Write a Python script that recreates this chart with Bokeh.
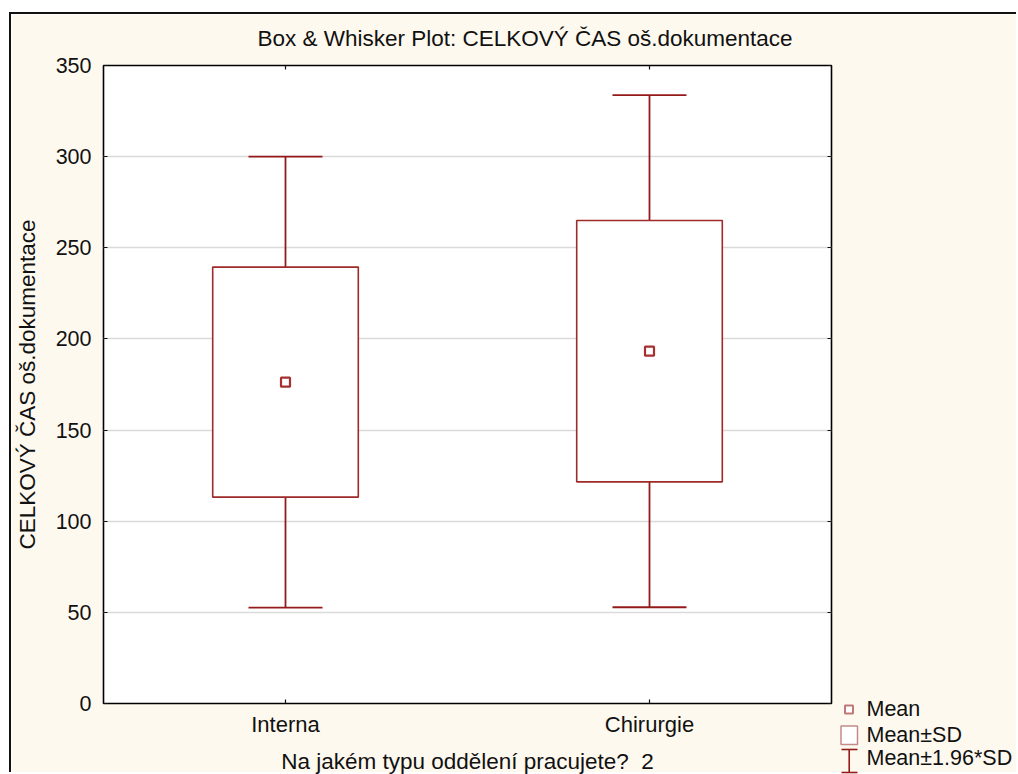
from bokeh.plotting import figure
from bokeh.models import (Range1d, FactorRange, Whisker, TeeHead, ColumnDataSource,
                          CategoricalAxis, LinearAxis)
from bokeh.core.properties import value
from bokeh.embed import file_html
from bokeh.resources import INLINE

# ---- data ----
categories = ["Interna", "Chirurgie"]
means = [176.3, 193.3]
sd_low = [113.2, 121.6]       # Mean - SD
sd_high = [239.4, 265.0]      # Mean + SD
ci_low = [52.6, 52.8]         # Mean - 1.96*SD
ci_high = [300.0, 333.8]      # Mean + 1.96*SD
y_ticks = [0, 50, 100, 150, 200, 250, 300, 350]

title_text = "Box & Whisker Plot: CELKOVÝ ČAS oš.dokumentace"
y_label = "CELKOVÝ ČAS oš.dokumentace"
x_label = "Na jakém typu oddělení pracujete?\u00a0 2"
legend_labels = ["Mean", "Mean±SD", "Mean±1.96*SD"]

CREAM = "#FEF9EF"
DARK = "#951B1B"
BOXC = "#9E2A2A"
FONT = "Liberation Sans"
TXT = "#111111"

src = ColumnDataSource(dict(cat=categories, mean=means, lo=sd_low, hi=sd_high,
                            clo=ci_low, chi=ci_high))

p = figure(x_range=FactorRange(factors=categories), y_range=Range1d(0, 350),
           width=1007, height=760, output_backend="svg", toolbar_location=None,
           min_border_left=92, min_border_right=187, min_border_top=51, min_border_bottom=71,
           border_fill_color=CREAM, background_fill_color="white",
           outline_line_color="black", outline_line_width=1.6)
p.styles = {"margin-left": "9px", "margin-top": "12px",
            "border-left": "2px solid #111", "border-top": "2px solid #111"}

# axes
ya = p.yaxis[0]
ya.ticker = y_ticks
ya.major_label_text_font = FONT
ya.major_label_text_font_size = "21.5px"
ya.major_label_text_color = TXT
ya.major_label_standoff = 12
ya.axis_label = y_label
ya.axis_label_text_font = FONT
ya.axis_label_text_font_size = "22.5px"
ya.axis_label_text_font_style = "normal"
ya.axis_label_text_color = TXT
ya.axis_label_standoff = 13
xa = p.xaxis[0]
xa.major_label_text_font = FONT
xa.major_label_text_font_size = "22px"
xa.major_label_text_color = TXT
xa.major_label_standoff = 8

ra = LinearAxis(ticker=y_ticks, major_label_text_color=None, major_label_text_font_size="1px")
ta = CategoricalAxis(major_label_text_color=None, major_label_text_font_size="1px")
p.add_layout(ra, "right")
p.add_layout(ta, "above")
for ax in [ya, xa, ra, ta]:
    ax.axis_line_color = None
    ax.major_tick_in = 4
    ax.major_tick_out = 0
    ax.major_tick_line_color = TXT
    ax.major_tick_line_width = 1.2
    ax.minor_tick_line_color = None

p.xgrid.grid_line_color = None
p.ygrid.ticker = y_ticks
p.ygrid.grid_line_color = "#DADADA"
p.ygrid.grid_line_width = 1.5

# boxes (Mean ± SD)
p.vbar(x="cat", top="hi", bottom="lo", width=0.4, source=src,
       fill_color="white", line_color=BOXC, line_width=1.6)

# whiskers (Mean ± 1.96*SD)
p.add_layout(Whisker(base="cat", upper="chi", lower="hi", source=src, dimension="height",
                     line_color=DARK, line_width=1.8,
                     upper_head=TeeHead(size=74, line_color=DARK, line_width=1.8),
                     lower_head=None))
p.add_layout(Whisker(base="cat", upper="lo", lower="clo", source=src, dimension="height",
                     line_color=DARK, line_width=1.8,
                     lower_head=TeeHead(size=74, line_color=DARK, line_width=1.8),
                     upper_head=None))

# means
p.scatter(x="cat", y="mean", source=src, marker="square", size=9,
          fill_color="white", line_color="#A63030", line_width=2.2)

# ---- transparent overlay (page pixel coordinates) for title, x label and legend ----
q = figure(x_range=Range1d(11, 1018), y_range=Range1d(774, 14), width=1007, height=760,
           output_backend="svg", toolbar_location=None, min_border=0,
           x_axis_location=None, y_axis_location=None,
           border_fill_alpha=0, background_fill_alpha=0, outline_line_color=None)
q.grid.visible = False
q.styles = {"position": "absolute", "left": "11px", "top": "14px"}

q.text(x=[524.5], y=[37.5], text=[title_text], text_font=value(FONT), text_font_size="22.5px",
       text_color=TXT, text_align="center", text_baseline="middle")
q.text(x=[467], y=[761], text=[x_label], text_font=value(FONT), text_font_size="22.5px",
       text_color=TXT, text_align="center", text_baseline="middle")

q.scatter(x=[848.5], y=[709], marker="square", size=8, line_width=2,
          line_color="#C07878", fill_color="white")
q.quad(left=[840.5], right=[857], top=[725.5], bottom=[744], fill_color="white",
       line_color="#C48A8A", line_width=1.5)
q.segment(x0=[848.7, 841, 841], y0=[749, 749, 772], x1=[848.7, 857, 857], y1=[772, 749, 772],
          line_color=DARK, line_width=1.6)
q.text(x=[866, 866, 866], y=[708, 734, 757], text=legend_labels, text_font=value(FONT),
       text_font_size="21.5px", text_color=TXT, text_baseline="middle")

open("out.html", "w").write(file_html([p, q], INLINE))
